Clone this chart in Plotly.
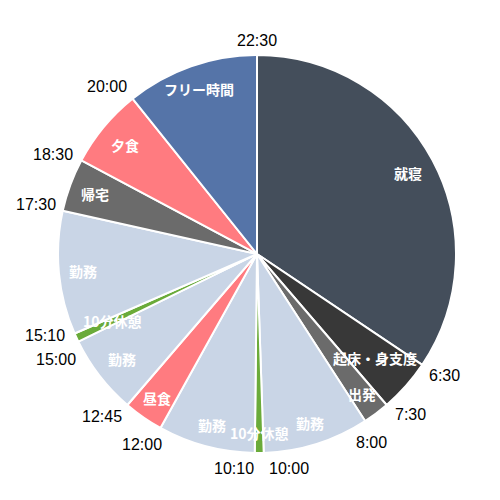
import math
import plotly.graph_objects as go

# ---- data ----
activities = ["就寝", "起床・身支度", "出発", "勤務", "10分休憩", "勤務", "昼食",
              "勤務", "10分休憩", "勤務", "帰宅", "夕食", "フリー時間"]
minutes = [480, 60, 30, 120, 10, 110, 45, 90, 10, 140, 60, 90, 150]
start_times = ["22:30", "6:30", "7:30", "8:00", "10:00", "10:10", "12:00",
               "12:45", "15:00", "15:10", "17:30", "18:30", "20:00"]

# ---- style ----
colors = ["#444E5B", "#383838", "#6B6B6B", "#C9D5E6", "#6AAB3A", "#C9D5E6", "#FF7B80",
          "#C9D5E6", "#6AAB3A", "#C9D5E6", "#6B6B6B", "#FF7B80", "#5574A8"]
label_r = [0.86, 0.79, 0.88, 0.89, 0.90, 0.89, 0.88, 0.86, 0.80, 0.88, 0.87, 0.86, 0.88]
time_nudge = [0, -1, -3, 1.5, -6.5, 5.5, 2, 3, -1.5, 2.5, 0, -2, -3]

W = H = 500
BODY = 8  # default page margin of the html body
ML, MT = 58 - BODY, 55 - BODY
PW = PH = 398
MR, MB = W - ML - PW, H - MT - PH
R = PW / 2.0

fig = go.Figure(go.Pie(
    labels=[str(i) for i in range(len(minutes))],
    values=minutes,
    sort=False,
    direction="clockwise",
    rotation=0,
    marker=dict(colors=colors, line=dict(color="white", width=2)),
    textinfo="none",
    hovertext=activities,
    hoverinfo="text",
    showlegend=False,
))

total = sum(minutes)
annotations = []

def to_paper(dx, dy):
    return 0.5 + dx / PW, 0.5 - dy / PH

cum = 0
for i, m in enumerate(minutes):
    a0 = cum / total * 360
    mid = (cum + m / 2) / total * 360
    cum += m
    # segment label
    r = label_r[i] * R
    x, y = to_paper(r * math.sin(math.radians(mid)), -r * math.cos(math.radians(mid)))
    annotations.append(dict(x=x, y=y, xref="paper", yref="paper", text=activities[i],
                            showarrow=False, xanchor="center", yanchor="middle",
                            font=dict(family="Noto Sans CJK JP", size=14, color="white",
                                      weight="bold")))
    # time label at segment start
    t = start_times[i]
    th = math.radians(a0 + time_nudge[i])
    w = 8.6 * sum(c.isdigit() for c in t) + 4.4 * t.count(":")
    h = 16
    rr = R + 7 + abs(math.sin(th)) * w / 2 + abs(math.cos(th)) * h / 2
    x, y = to_paper(rr * math.sin(th), -rr * math.cos(th))
    annotations.append(dict(x=x, y=y, xref="paper", yref="paper", text=t,
                            showarrow=False, xanchor="center", yanchor="middle",
                            font=dict(family="Liberation Sans", size=16, color="black")))

fig.update_layout(
    width=W, height=H,
    margin=dict(l=ML, r=MR, t=MT, b=MB),
    paper_bgcolor="white",
    plot_bgcolor="white",
    annotations=annotations,
)

fig.write_html("out.html")
